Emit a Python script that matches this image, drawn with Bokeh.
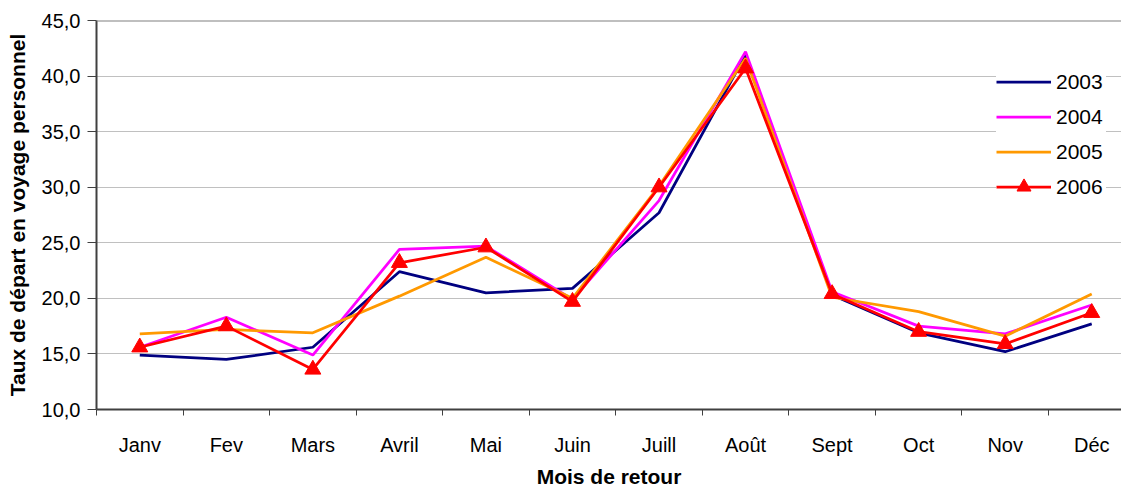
from bokeh.plotting import figure
from bokeh.models import (Range1d, FixedTicker, Span, Legend, LegendItem)
from bokeh.embed import file_html
from bokeh.resources import INLINE

months = ["Janv", "Fev", "Mars", "Avril", "Mai", "Juin", "Juill", "Août", "Sept", "Oct", "Nov", "Déc"]
y2003 = [14.9, 14.5, 15.6, 22.4, 20.5, 20.9, 27.7, 41.9, 20.3, 16.9, 15.2, 17.7]
y2004 = [15.6, 18.3, 14.9, 24.4, 24.7, 19.9, 28.8, 42.2, 20.6, 17.5, 16.8, 19.4]
y2005 = [16.8, 17.2, 16.9, 20.2, 23.7, 20.0, 30.1, 41.6, 20.1, 18.8, 16.6, 20.4]
y2006 = [15.6, 17.5, 13.6, 23.2, 24.6, 19.7, 30.0, 40.7, 20.4, 17.0, 15.9, 18.7]
series_names = ["2003", "2004", "2005", "2006"]
y_ticks = [10, 15, 20, 25, 30, 35, 40, 45]
y_tick_labels = ["10,0", "15,0", "20,0", "25,0", "30,0", "35,0", "40,0", "45,0"]
x_title = "Mois de retour"
y_title = "Taux de départ en voyage personnel"

FONT = "Liberation Sans"

x = [i + 0.5 for i in range(len(months))]

p = figure(width=1121, height=490, output_backend="svg", toolbar_location=None,
           x_range=Range1d(0, 11.844), y_range=Range1d(10, 45),
           min_border_left=96, min_border_right=0, min_border_top=20, min_border_bottom=81)
p.outline_line_color = None
p.background_fill_color = "white"
p.border_fill_color = "white"

# grid
p.xgrid.visible = False
p.ygrid.ticker = FixedTicker(ticks=y_ticks)
p.ygrid.grid_line_color = "#c0c0c0"
p.ygrid.grid_line_width = 1

# top frame line
p.add_layout(Span(location=45, dimension="width", line_color="#808080", line_width=2))

# x axis
xa = p.xaxis[0]
xa.ticker = FixedTicker(ticks=x, minor_ticks=list(range(len(months) + 1)))
xa.major_label_overrides = {xi: m for xi, m in zip(x, months)}
xa.major_tick_out = 0
xa.major_tick_in = 0
xa.minor_tick_out = 6
xa.minor_tick_in = 0
xa.minor_tick_line_color = "#404040"
xa.axis_line_color = "#404040"
xa.axis_line_width = 2
xa.major_label_text_font = FONT
xa.major_label_text_font_size = "20px"
xa.major_label_text_color = "black"
xa.major_label_standoff = 18
xa.axis_label = x_title
xa.axis_label_text_font = FONT
xa.axis_label_text_font_style = "bold"
xa.axis_label_text_font_size = "21px"
xa.axis_label_text_color = "black"
xa.axis_label_standoff = 6

# y axis
ya = p.yaxis[0]
ya.ticker = FixedTicker(ticks=y_ticks)
ya.major_label_overrides = {t: l for t, l in zip(y_ticks, y_tick_labels)}
ya.major_tick_out = 9
ya.major_tick_in = 0
ya.minor_tick_out = 0
ya.minor_tick_in = 0
ya.major_tick_line_color = "#404040"
ya.axis_line_color = "#404040"
ya.axis_line_width = 2
ya.major_label_text_font = FONT
ya.major_label_text_font_size = "20px"
ya.major_label_text_color = "black"
ya.major_label_standoff = 7
ya.axis_label = y_title
ya.axis_label_text_font = FONT
ya.axis_label_text_font_style = "bold"
ya.axis_label_text_font_size = "21px"
ya.axis_label_text_color = "black"
ya.axis_label_standoff = 10

l1 = p.line(x, y2003, line_color="#000080", line_width=2.75)
l2 = p.line(x, y2004, line_color="#FF00FF", line_width=2.75)
l3 = p.line(x, y2005, line_color="#FF9900", line_width=2.75)
l4 = p.line(x, y2006, line_color="#FF0000", line_width=2.75)
s4 = p.scatter(x, y2006, marker="triangle", size=16, fill_color="#FF0000", line_color="#FF0000")

legend = Legend(items=[
    LegendItem(label=series_names[0], renderers=[l1]),
    LegendItem(label=series_names[1], renderers=[l2]),
    LegendItem(label=series_names[2], renderers=[l3]),
    LegendItem(label=series_names[3], renderers=[l4, s4]),
], location=(900, 205))
legend.label_text_font = FONT
legend.label_text_font_size = "21px"
legend.label_text_color = "black"
legend.glyph_width = 55
legend.glyph_height = 35
legend.label_height = 20
legend.label_width = 50
legend.label_standoff = 5
legend.spacing = 0
legend.padding = 8
legend.margin = 0
legend.border_line_color = None
legend.background_fill_color = "white"
legend.background_fill_alpha = 1.0
p.add_layout(legend)

open("out.html", "w").write(file_html(p, INLINE))
